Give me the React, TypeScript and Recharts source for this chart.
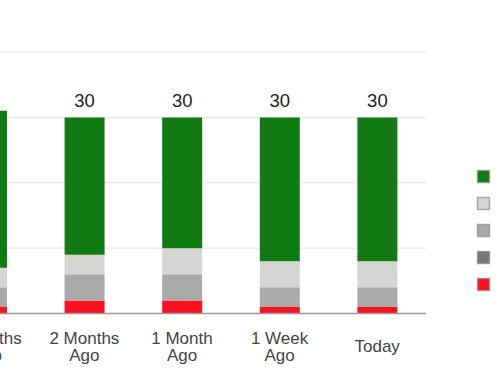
import { BarChart, Bar, XAxis, YAxis, CartesianGrid, LabelList } from "recharts";

const CATEGORIES = ["3 Months Ago", "2 Months Ago", "1 Month Ago", "1 Week Ago", "Today"];
const RED = [1, 2, 2, 1, 1];
const DARK_GREY = [0, 0, 0, 0, 0];
const MID_GREY = [3, 4, 4, 3, 3];
const LIGHT_GREY = [3, 3, 4, 4, 4];
const GREEN = [24, 21, 20, 22, 22];
const Y_TICKS = [0, 10, 20, 30, 40];

// stack order bottom -> top
const SERIES = [
  { key: "red", name: "Critical", color: "#fb111f", values: RED },
  { key: "dark", name: "High", color: "#777777", values: DARK_GREY },
  { key: "mid", name: "Medium", color: "#aaaaaa", values: MID_GREY },
  { key: "light", name: "Low", color: "#d6d5d4", values: LIGHT_GREY },
  { key: "green", name: "Passed", color: "#117a13", values: GREEN },
];

const data = CATEGORIES.map((c, i) => {
  const row: Record<string, string | number> = { name: c };
  let total = 0;
  for (const s of SERIES) {
    row[s.key] = s.values[i];
    total += s.values[i];
  }
  row.total = total;
  return row;
});

const FONT = "Arial, 'Liberation Sans', sans-serif";

function Tick({ x, y, payload }: { x?: number; y?: number; payload?: { value: string } }) {
  const label = payload?.value ?? "";
  const words = label.split(" ");
  const lines = words.length > 1 ? [words.slice(0, -1).join(" "), words[words.length - 1]] : [label];
  const yy = y ?? 0;
  return (
    <text x={x} textAnchor="middle" fill="#444" fontSize={17} fontFamily={FONT}>
      {lines.length === 1 ? (
        <tspan x={x} y={yy + 38.5}>{lines[0]}</tspan>
      ) : (
        lines.map((l, i) => (
          <tspan key={i} x={x} y={yy + 30.5 + i * 17}>{l}</tspan>
        ))
      )}
    </text>
  );
}

export default function App() {
  const legendItems = [...SERIES].reverse();
  return (
    <div style={{ position: "absolute", left: 0, top: 0, width: 500, height: 383, overflow: "hidden" }}>
      <div style={{ position: "absolute", left: -62, top: 0 }}>
        <BarChart
          width={562}
          height={383}
          data={data}
          margin={{ top: 52, right: 74, bottom: 0, left: 0 }}
        >
          <CartesianGrid vertical={false} stroke="#e5e5e5" />
          <XAxis
            dataKey="name"
            height={69.5}
            tickLine={false}
            tickSize={0}
            tickMargin={0}
            axisLine={{ stroke: "#9a9a9a", strokeWidth: 1.5 }}
            tick={<Tick />}
            interval={0}
          />
          <YAxis hide width={0} domain={[0, 40]} ticks={Y_TICKS} />
          {SERIES.map((s) => (
            <Bar
              key={s.key}
              dataKey={s.key}
              name={s.name}
              stackId="a"
              fill={s.color}
              barSize={40}
              isAnimationActive={false}
            >
              {s.key === "green" && (
                <LabelList
                  dataKey="total"
                  position="top"
                  offset={10}
                  fill="#222"
                  fontSize={18.5}
                  fontFamily={FONT}
                />
              )}
            </Bar>
          ))}
        </BarChart>
      </div>
      <svg style={{ position: "absolute", left: 476, top: 169 }} width={20} height={130}>
        {legendItems.map((s, i) => (
          <rect
            key={s.key}
            x={1.5}
            y={1.5 + i * 27}
            width={12}
            height={12}
            fill={s.color}
            stroke="#8c8c8c"
            strokeOpacity={0.7}
            strokeWidth={1.5}
          />
        ))}
      </svg>
    </div>
  );
}
